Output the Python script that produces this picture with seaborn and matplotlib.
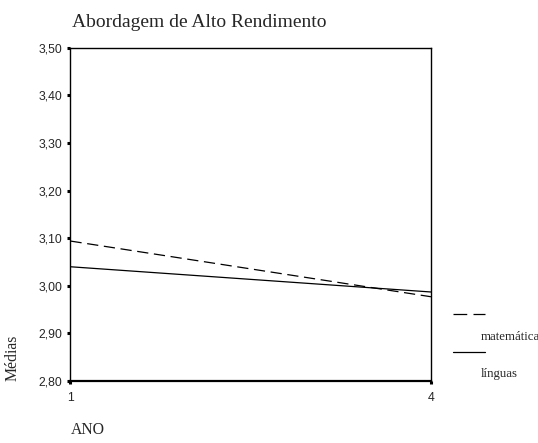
import pandas as pd
import seaborn as sns
import matplotlib.pyplot as plt
from matplotlib.lines import Line2D

anos = [1, 4]
matematica = [3.094, 2.977]
linguas = [3.040, 2.987]
yticks = [2.80, 2.90, 3.00, 3.10, 3.20, 3.30, 3.40, 3.50]

data = pd.DataFrame({
    "ANO": anos * 2,
    "Médias": matematica + linguas,
    "disciplina": ["matemática"] * 2 + ["línguas"] * 2,
})

sns.set_style("white")
plt.rcParams['font.family'] = ['Liberation Sans', 'DejaVu Sans']

fig = plt.figure(figsize=(5.38, 4.43), dpi=100)
ax = fig.add_axes([0.131, 0.140, 0.670, 0.752])

sns.lineplot(data=data, x="ANO", y="Médias", hue="disciplina", style="disciplina",
             palette=["black", "black"], dashes={"matemática": (9, 4.5), "línguas": ""},
             linewidth=0.9, ax=ax, legend=False)

ax.set_xlim(1, 4)
ax.set_ylim(2.80, 3.50)
ax.set_xticks(anos)
ax.set_xticklabels([str(a) for a in anos])
ax.set_yticks(yticks)
ax.set_yticklabels([f"{v:.2f}".replace(".", ",") for v in yticks])
ax.tick_params(axis="both", labelsize=8.8, direction="out", length=2, width=2.2,
               color="black", left=True, bottom=True)
ax.tick_params(axis="y", pad=4)
ax.tick_params(axis="x", pad=6)
for s in ax.spines.values():
    s.set_color("black")
    s.set_linewidth(1.0)
ax.spines["bottom"].set_linewidth(1.6)

ax.set_xlabel("")
ax.set_ylabel("")
fig.text(0.133, 0.950, "Abordagem de Alto Rendimento", family="Liberation Serif", fontsize=14,
         ha="left", va="center")
fig.text(0.131, 0.030, "ANO", family="Liberation Serif", fontsize=11.3, ha="left", va="center")
fig.text(0.024, 0.140, "Médias", family="Liberation Serif", fontsize=11.3, rotation=90,
         ha="center", va="bottom")

# legend drawn as in the original, to the right of the plot
fig.add_artist(Line2D([0.842, 0.902], [0.291, 0.291], color="black", lw=0.9, dashes=(11, 5),
                      transform=fig.transFigure))
fig.add_artist(Line2D([0.842, 0.902], [0.205, 0.205], color="black", lw=0.9,
                      transform=fig.transFigure))
fig.text(0.893, 0.239, "matemática", family="Liberation Serif", fontsize=9.3, va="center")
fig.text(0.893, 0.155, "línguas", family="Liberation Serif", fontsize=9.3, va="center")

fig.savefig("out.png", dpi=100)
